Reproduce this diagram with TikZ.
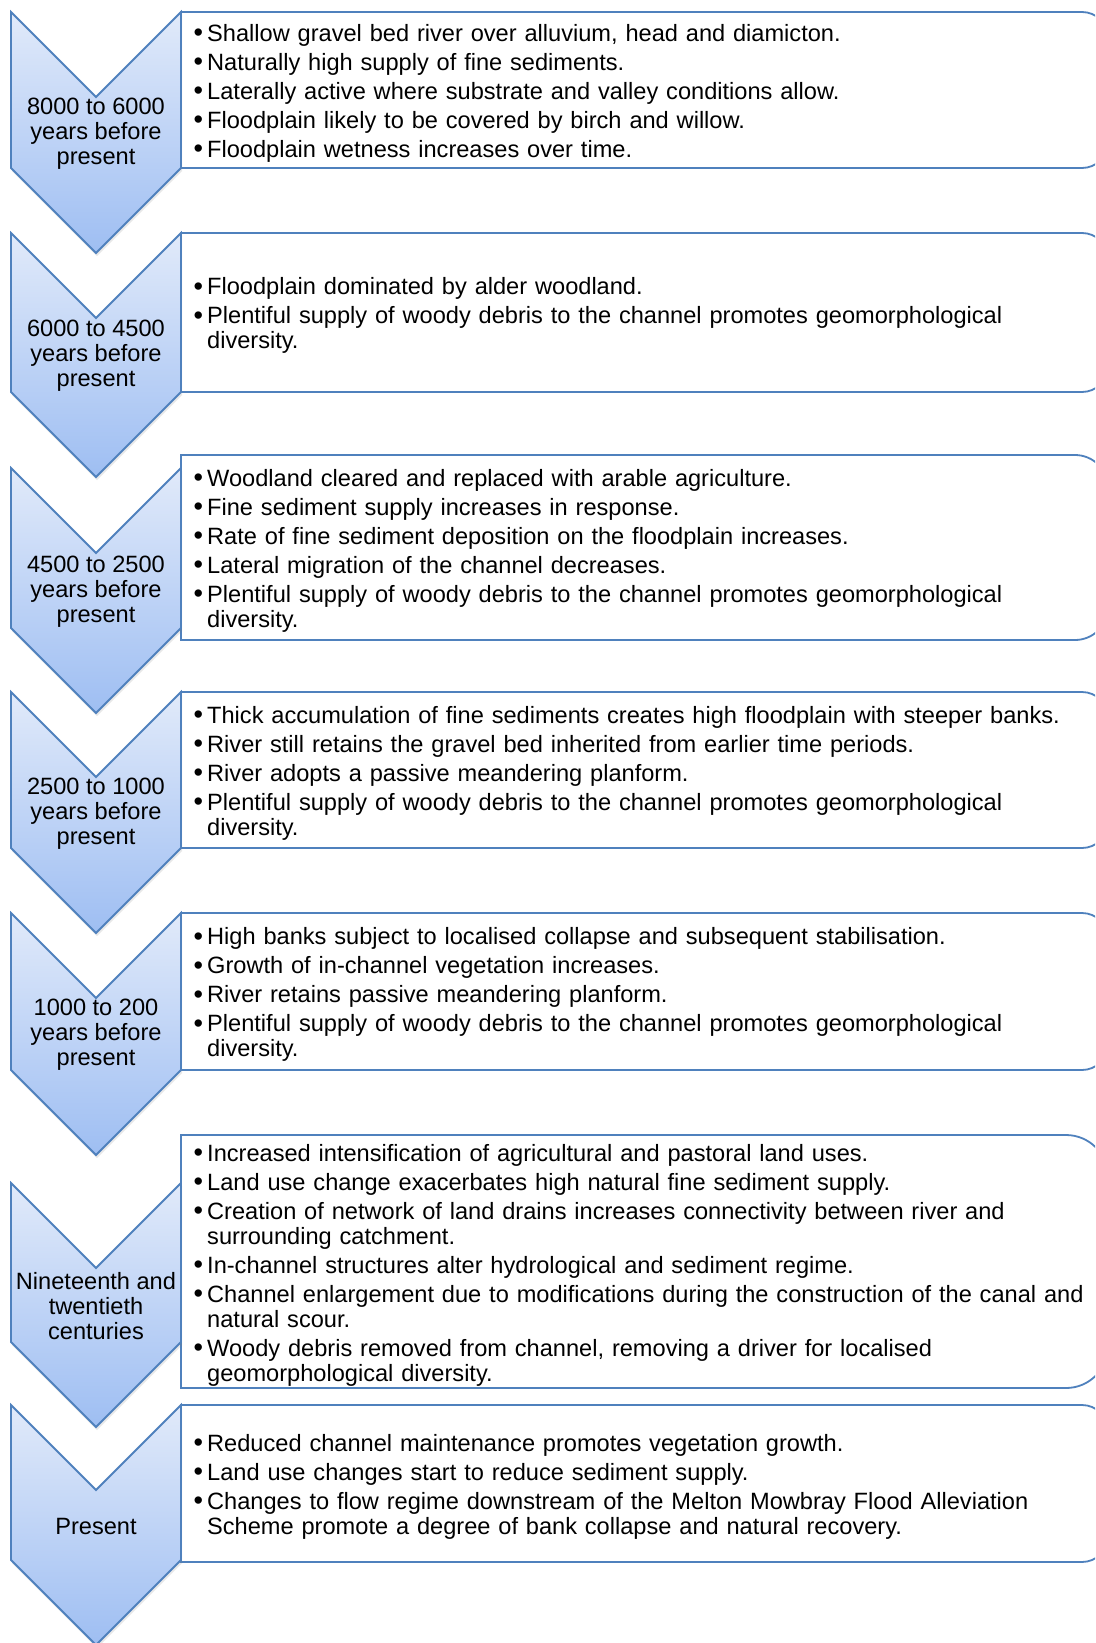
\documentclass[tikz,border=0pt]{standalone}
\usepackage{fontspec}
\setmainfont{Liberation Sans}
\usetikzlibrary{shadows}
\definecolor{edge}{RGB}{79,129,189}
\definecolor{chtop}{RGB}{225,234,250}
\definecolor{chbot}{RGB}{158,190,242}
\tikzset{
  chev/.style={draw=edge, line width=1.8pt, line join=miter, top color=chtop, bottom color=chbot,
    drop shadow={opacity=0.18, shadow xshift=1pt, shadow yshift=-3pt}},
  tbox/.style={draw=edge, line width=1.8pt, fill=white},
  chtext/.style={font=\fontsize{23.6}{25}\selectfont, align=center, inner sep=0pt},
  btext/.style={font=\fontsize{23.6}{25}\selectfont, anchor=west, text width=1000pt, inner sep=0pt, align=left},
}
\newcommand{\bul}[1]{\par\hangindent=14pt\hangafter=1\noindent\makebox[14pt][l]{\hspace{0.5pt}\raisebox{-0.8pt}{\fontsize{27}{25}\selectfont•}}#1}
\newcommand{\bstart}{\setlength{\parskip}{4pt}}
% top, bottom, radius
\newcommand{\tlbox}[3]{%
  \draw[tbox] (181,#1) -- ({1108-#3},#1) arc[start angle=-90, end angle=0, radius=#3]
    -- (1108,{#2-#3}) arc[start angle=0, end angle=90, radius=#3] -- (181,#2) -- cycle;}
% name, top, bottom, text
\newcommand{\chevron}[4]{%
  \path[chev] (11,#2) -- (96,{#2+85}) -- (181,#2) -- (181,#3) -- (96,{#3+85}) -- (11,#3) -- cycle;
  \node[chtext] (#1) at (96,{(#2+87+#3)/2}) {#4};}
\begin{document}
\begin{tikzpicture}[x=1pt, y=-1pt]
\useasboundingbox (0,0) rectangle (1095,1643);
\clip (0,0) rectangle (1095,1643);
\fill[white] (0,0) rectangle (1095,1643);

% boxes
\tlbox{12}{168}{26}
\tlbox{233}{392}{26}
\tlbox{455}{640}{33}
\tlbox{692}{848}{26}
\tlbox{913}{1070}{26}
\tlbox{1135}{1388}{42}
\tlbox{1405}{1562}{26}

% chevrons
\chevron{c1}{12}{168}{8000 to 6000\\years before\\present}
\chevron{c2}{233}{392}{6000 to 4500\\years before\\present}
\chevron{c3}{468}{628}{4500 to 2500\\years before\\present}
\chevron{c4}{692}{848}{2500 to 1000\\years before\\present}
\chevron{c5}{913}{1070}{1000 to 200\\years before\\present}
\chevron{c6}{1183}{1342}{Nineteenth and\\twentieth\\centuries}
\chevron{c7}{1405}{1560}{Present}

% texts
\node[btext] (t1) at (193,87) {\bstart
\bul{Shallow gravel bed river over alluvium, head and diamicton.}
\bul{Naturally high supply of fine sediments.}
\bul{Laterally active where substrate and valley conditions allow.}
\bul{Floodplain likely to be covered by birch and willow.}
\bul{Floodplain wetness increases over time.}\par};

\node[btext] (t2) at (193,309.5) {\bstart
\bul{Floodplain dominated by alder woodland.}
\bul{Plentiful supply of woody debris to the channel promotes geomorphological\newline diversity.}\par};

\node[btext] (t3) at (193,544.5) {\bstart
\bul{Woodland cleared and replaced with arable agriculture.}
\bul{Fine sediment supply increases in response.}
\bul{Rate of fine sediment deposition on the floodplain increases.}
\bul{Lateral migration of the channel decreases.}
\bul{Plentiful supply of woody debris to the channel promotes geomorphological\newline diversity.}\par};

\node[btext] (t4) at (193,767) {\bstart
\bul{Thick accumulation of fine sediments creates high floodplain with steeper banks.}
\bul{River still retains the gravel bed inherited from earlier time periods.}
\bul{River adopts a passive meandering planform.}
\bul{Plentiful supply of woody debris to the channel promotes geomorphological\newline diversity.}\par};

\node[btext] (t5) at (193,988.5) {\bstart
\bul{High banks subject to localised collapse and subsequent stabilisation.}
\bul{Growth of in-channel vegetation increases.}
\bul{River retains passive meandering planform.}
\bul{Plentiful supply of woody debris to the channel promotes geomorphological\newline diversity.}\par};

\node[btext] (t6) at (193,1259) {\bstart
\bul{Increased intensification of agricultural and pastoral land uses.}
\bul{Land use change exacerbates high natural fine sediment supply.}
\bul{Creation of network of land drains increases connectivity between river and\newline surrounding catchment.}
\bul{In-channel structures alter hydrological and sediment regime.}
\bul{Channel enlargement due to modifications during the construction of the canal and\newline natural scour.}
\bul{Woody debris removed from channel, removing a driver for localised\newline geomorphological diversity.}\par};

\node[btext] (t7) at (193,1480.5) {\bstart
\bul{Reduced channel maintenance promotes vegetation growth.}
\bul{Land use changes start to reduce sediment supply.}
\bul{Changes to flow regime downstream of the Melton Mowbray Flood Alleviation\newline Scheme promote a degree of bank collapse and natural recovery.}\par};
\end{tikzpicture}
\end{document}
